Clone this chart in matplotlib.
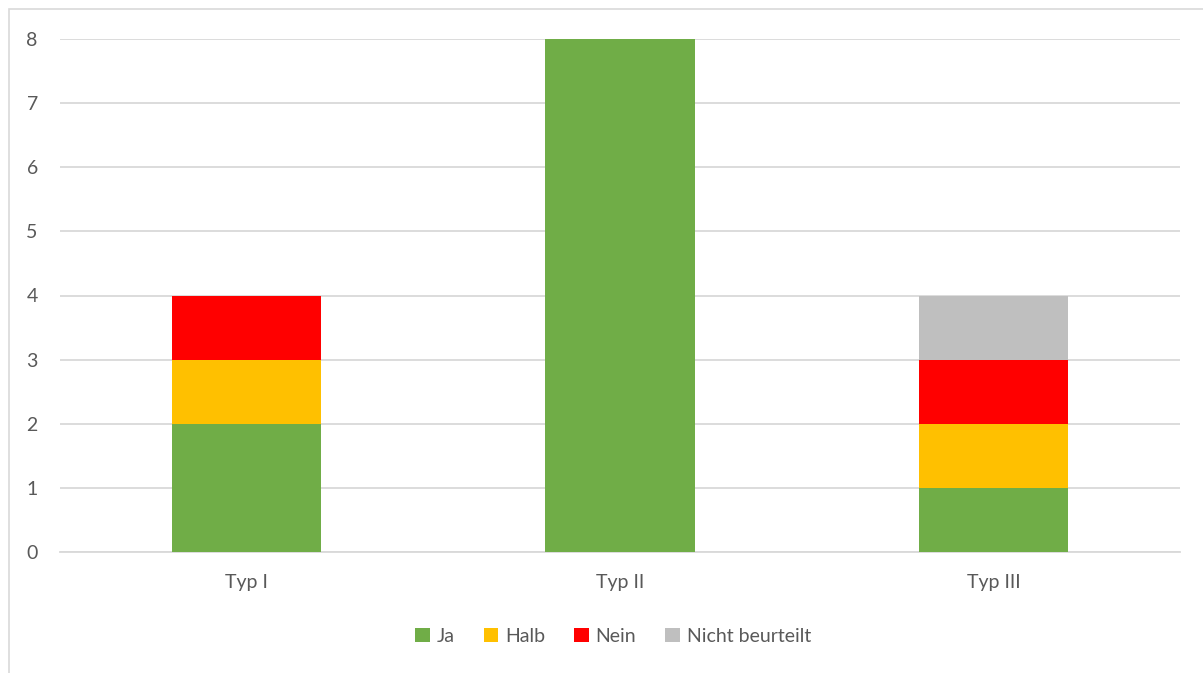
#!/usr/bin/env python3
import matplotlib
matplotlib.use("Agg")
import matplotlib.pyplot as plt
from matplotlib.patches import Rectangle, Patch

categories = ["Typ I", "Typ II", "Typ III"]
series_names = ["Ja", "Halb", "Nein", "Nicht beurteilt"]
ja = [2, 8, 1]
halb = [1, 0, 1]
nein = [1, 0, 1]
nicht_beurteilt = [0, 0, 1]
colors = ["#70AD47", "#FFC000", "#FF0000", "#BFBFBF"]
y_ticks = [0, 1, 2, 3, 4, 5, 6, 7, 8]

plt.rcParams["font.family"] = ["Lato", "DejaVu Sans"]
text_color = "#595959"

W, H = 1203, 673
fig = plt.figure(figsize=(W / 100, H / 100), dpi=100)
ax = fig.add_axes([60 / W, (H - 552) / H, 1120 / W, (552 - 39) / H])

# Rahmen um das Diagramm (nur links und oben sichtbar)
fig.patches.append(Rectangle((8.5 / W, -0.1), 1.2, (H - 9) / H + 0.1,
                             transform=fig.transFigure, fill=False,
                             edgecolor="#D9D9D9", linewidth=1.2, zorder=0))

x = range(len(categories))
bottom = [0, 0, 0]
for name, vals, col in zip(series_names, [ja, halb, nein, nicht_beurteilt], colors):
    ax.bar(x, vals, width=0.4, bottom=bottom, color=col, label=name, zorder=3)
    bottom = [b + v for b, v in zip(bottom, vals)]

ax.set_xlim(-0.5, 2.5)
ax.set_ylim(0, 8)
ax.set_yticks(y_ticks)
ax.set_xticks(list(x))
ax.set_xticklabels(categories)
ax.yaxis.grid(True, color="#D9D9D9", linewidth=1.3, zorder=0)
ax.set_axisbelow(True)
for s in ["top", "right", "left"]:
    ax.spines[s].set_visible(False)
ax.spines["bottom"].set_color("#D9D9D9")
ax.spines["bottom"].set_linewidth(1.3)
ax.tick_params(axis="both", length=0, labelsize=14, colors=text_color)
ax.tick_params(axis="y", pad=16)
ax.tick_params(axis="x", pad=16)

handles = [Patch(facecolor=c, edgecolor="none") for c in colors]
fig.legend(handles, series_names, loc="center", bbox_to_anchor=(613 / W, (H - 636) / H),
           ncol=4, frameon=False, fontsize=14, labelcolor=text_color,
           handlelength=0.75, handleheight=0.75, handletextpad=0.35, columnspacing=1.5)

fig.savefig("out.png", dpi=100)
